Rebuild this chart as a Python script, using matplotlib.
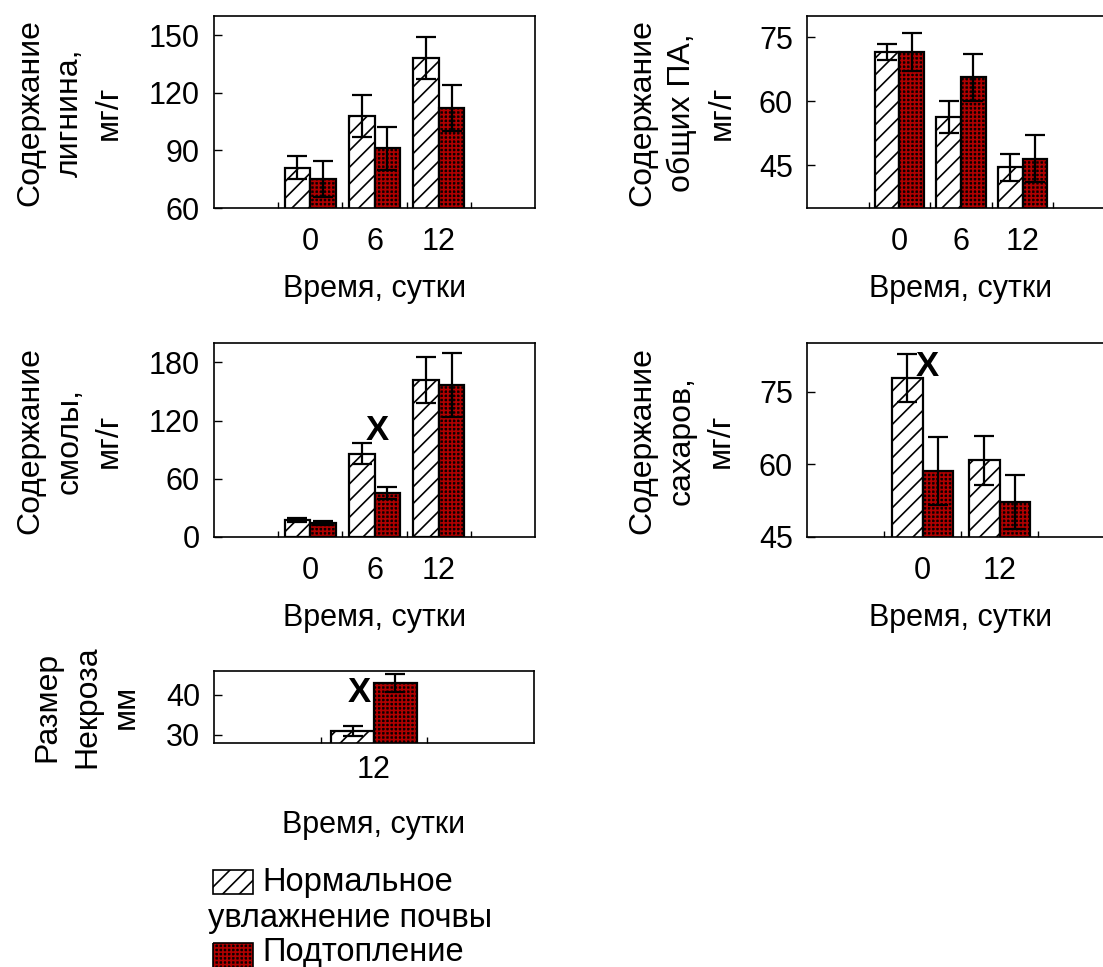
import numpy as np
import matplotlib
matplotlib.use("Agg")
import matplotlib.pyplot as plt
from matplotlib.patches import Rectangle

plt.rcParams['font.family'] = ['Liberation Sans', 'DejaVu Sans']
plt.rcParams['font.size'] = 22
plt.rcParams['hatch.linewidth'] = 1.2

W, H = 1103, 967
FLOOD_FACE = '#0c0000'
FLOOD_HATCH = '#b00000'

# ---- data ----
days_3 = ["0", "6", "12"]
days_2 = ["0", "12"]
days_1 = ["12"]

lignin_norm = [81, 108, 138]
lignin_norm_err = [6, 11, 11]
lignin_flood = [75, 91, 112]
lignin_flood_err = [9.5, 11, 12]

pa_norm = [71.6, 56.3, 44.5]
pa_norm_err = [1.8, 3.7, 3.2]
pa_flood = [71.5, 65.6, 46.6]
pa_flood_err = [4.5, 5.6, 5.4]

resin_norm = [17.5, 86, 162]
resin_norm_err = [2, 11, 24]
resin_flood = [14.5, 45.5, 157]
resin_flood_err = [2, 6, 33]

sugar_norm = [77.8, 60.8]
sugar_norm_err = [5, 5]
sugar_flood = [58.6, 52.2]
sugar_flood_err = [7, 5.5]

necr_norm = [31]
necr_norm_err = [1.3]
necr_flood = [43]
necr_flood_err = [2.2]

fig = plt.figure(figsize=(W / 100, H / 100), dpi=100)


def px_axes(left, top, right, bottom):
    return fig.add_axes([left / W, 1 - bottom / H, (right - left) / W, (bottom - top) / H])


def px_text(x, y, s, **kw):
    fig.text(x / W, 1 - y / H, s, **kw)


def panel(ax, labels, norm, norm_err, flood, flood_err, ylim, yticks,
          tick_pad=14, label_pad=12):
    n = len(labels)
    x = np.arange(1, n + 1)
    w = 0.4
    ax.bar(x - w / 2, norm, w, color='white', edgecolor='black', hatch='//',
           lw=1.6, zorder=2)
    ax.bar(x + w / 2, flood, w, color=FLOOD_FACE, edgecolor=FLOOD_HATCH,
           hatch='++++', lw=0, zorder=2)
    ax.bar(x + w / 2, flood, w, fill=False, edgecolor='black', lw=1.6, zorder=3)
    ax.errorbar(x - w / 2, norm, yerr=norm_err, fmt='none', ecolor='black',
                elinewidth=1.6, capsize=7, capthick=1.6, zorder=4)
    ax.errorbar(x + w / 2, flood, yerr=flood_err, fmt='none', ecolor='black',
                elinewidth=1.6, capsize=7, capthick=1.6, zorder=4)
    ax.set_xlim(-0.5, n + 1.5)
    ax.set_ylim(*ylim)
    ax.set_yticks(yticks)
    ax.set_xticks(x)
    ax.set_xticklabels(labels)
    ax.set_xticks(np.arange(0.5, n + 1.5), minor=True)
    ax.tick_params(axis='x', which='major', length=0, pad=tick_pad)
    ax.tick_params(axis='x', which='minor', direction='in', length=4, width=1)
    ax.tick_params(axis='y', direction='in', length=6, width=1, pad=10)
    for s in ax.spines.values():
        s.set_linewidth(1.2)
    ax.set_xlabel("Время, сутки", labelpad=label_pad)


ylab = dict(rotation=90, ha='center', va='center', multialignment='center',
            linespacing=1.4, fontsize=23)

ax1 = px_axes(214, 16, 535, 208)
panel(ax1, days_3, lignin_norm, lignin_norm_err, lignin_flood, lignin_flood_err,
      (60, 160), [60, 90, 120, 150])
px_text(70, 113, "Содержание\nлигнина,\nмг/г", **ylab)

ax2 = px_axes(807, 16, 1115, 208)
panel(ax2, days_3, pa_norm, pa_norm_err, pa_flood, pa_flood_err,
      (35, 80), [45, 60, 75])
px_text(682, 113, "Содержание\nобщих ПА,\nмг/г", **ylab)

ax3 = px_axes(214, 343, 535, 537)
panel(ax3, days_3, resin_norm, resin_norm_err, resin_flood, resin_flood_err,
      (0, 200), [0, 60, 120, 180])
ax3.text(2.05, 110, "X", fontsize=25, fontweight='bold', ha='center', va='center')
px_text(70, 441, "Содержание\nсмолы,\nмг/г", **ylab)

ax4 = px_axes(807, 343, 1115, 537)
panel(ax4, days_2, sugar_norm, sugar_norm_err, sugar_flood, sugar_flood_err,
      (45, 85), [45, 60, 75])
ax4.text(1.06, 80.1, "X", fontsize=25, fontweight='bold', ha='center', va='center')
px_text(682, 441, "Содержание\nсахаров,\nмг/г", **ylab)

ax5 = px_axes(214, 671, 534, 743)
panel(ax5, days_1, necr_norm, necr_norm_err, necr_flood, necr_flood_err,
      (28, 46), [30, 40], tick_pad=9, label_pad=18)
ax5.text(0.86, 40.5, "X", fontsize=25, fontweight='bold', ha='center', va='center')
px_text(87, 707, "Размер\nНекроза\nмм", **ylab)

# ---- legend drawn by hand (text wraps under the swatch) ----
leg = fig.add_axes([0, 0, 1, 1])
leg.set_xlim(0, W)
leg.set_ylim(H, 0)
leg.axis('off')
leg.add_patch(Rectangle((213, 870), 40, 24, facecolor='white', edgecolor='black',
                        hatch='//', lw=1.2))
leg.add_patch(Rectangle((213, 943), 40, 26, facecolor=FLOOD_FACE,
                        edgecolor=FLOOD_HATCH, hatch='++++', lw=0))
leg.add_patch(Rectangle((213, 943), 40, 26, fill=False, edgecolor='black', lw=1.2))
leg.text(262, 883, "Нормальное", ha='left', va='center', fontsize=23.5)
leg.text(208, 918, "увлажнение почвы", ha='left', va='center', fontsize=23.5)
leg.text(262, 953, "Подтопление", ha='left', va='center', fontsize=23.5)

fig.savefig("out.png", dpi=100)
